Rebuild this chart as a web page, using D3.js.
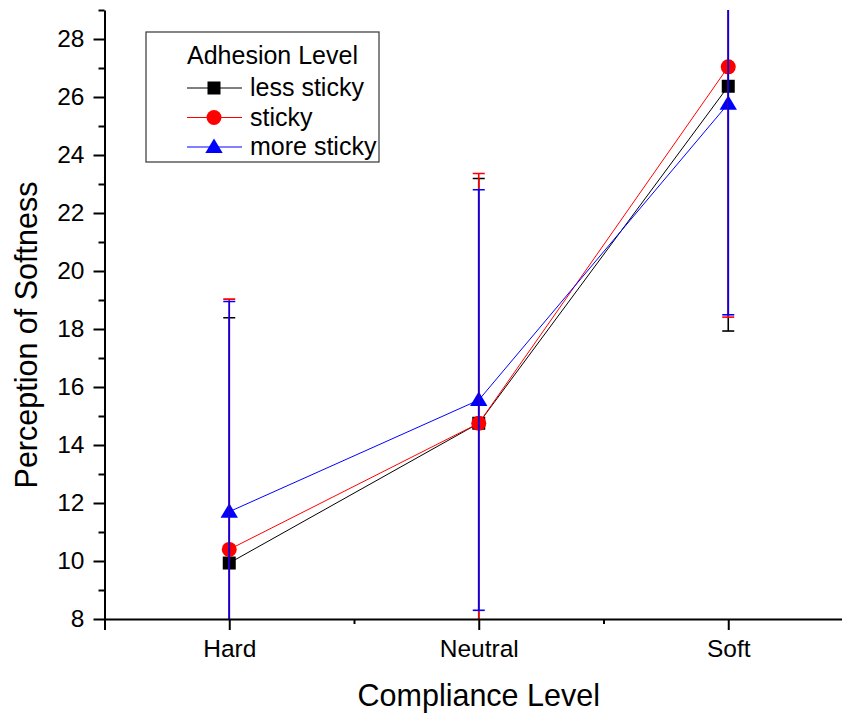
<!DOCTYPE html>
<html>
<head>
<meta charset="utf-8">
<script src="https://cdn.jsdelivr.net/npm/d3@7"></script>
<style>
  body { margin: 0; background: #fff; }
  svg { display: block; font-family: "Liberation Sans", Arial, sans-serif; }
</style>
</head>
<body>
<div id="svganchor"></div>
<script>
// categories and series
var categories = ["Hard", "Neutral", "Soft"];
var seriesNames = ["less sticky", "sticky", "more sticky"];
var seriesColors = ["#000000", "#ff0000", "#0000ff"];
var seriesShapes = ["square", "circle", "triangle"];

// mean values per series (Hard, Neutral, Soft)
var lessSticky = [9.93, 14.75, 26.37];
var sticky = [10.4, 14.75, 27.04];
var moreSticky = [11.7, 15.55, 25.77];
// error (+/-) per series
var lessStickyErr = [8.46, 8.44, 8.44];
var stickyErr = [8.63, 8.61, 8.63];
var moreStickyErr = [7.25, 7.25, 7.28];

var yTicks = [8, 10, 12, 14, 16, 18, 20, 22, 24, 26, 28];
var yMinorTicks = [9, 11, 13, 15, 17, 19, 21, 23, 25, 27, 29];

var means = [lessSticky, sticky, moreSticky];
var errs = [lessStickyErr, stickyErr, moreStickyErr];

var width = 842, height = 713;
var margin = { top: 10, left: 104.5, right: -11, bottom: 94 };

var svg = d3.select("#svganchor").append("svg")
  .attr("width", width).attr("height", height);

var x = d3.scaleLinear().domain([0.5, 3.5]).range([margin.left, width - margin.right]);
var y = d3.scaleLinear().domain([8, 29]).range([height - margin.bottom, margin.top]);

svg.append("defs").append("clipPath").attr("id", "plotclip")
  .append("rect")
  .attr("x", margin.left).attr("y", margin.top)
  .attr("width", width - margin.right - margin.left)
  .attr("height", height - margin.bottom - margin.top);

var dataReady = seriesNames.map(function (name, i) {
  return {
    name: name, color: seriesColors[i], shape: seriesShapes[i],
    values: categories.map(function (c, j) {
      return { idx: j + 1, value: means[i][j], err: errs[i][j] };
    })
  };
});

function marker(g, shape, color) {
  if (shape == "square") {
    g.append("rect").attr("x", -6.5).attr("y", -6.5).attr("width", 13).attr("height", 13).attr("fill", color);
  } else if (shape == "circle") {
    g.append("circle").attr("r", 7.5).attr("fill", color);
  } else {
    g.append("path").attr("d", "M0,-8.5L8.7,6L-8.7,6Z").attr("fill", color);
  }
}

var plot = svg.append("g").attr("clip-path", "url(#plotclip)");

// lines
var line = d3.line()
  .x(function (d) { return x(d.idx); })
  .y(function (d) { return y(d.value); });

dataReady.forEach(function (s) {
  plot.append("path")
    .attr("d", line(s.values))
    .attr("stroke", s.color)
    .attr("stroke-width", 1)
    .attr("fill", "none");
  s.values.forEach(function (d) {
    var g = plot.append("g").attr("transform", "translate(" + x(d.idx) + "," + y(d.value) + ")");
    marker(g, s.shape, s.color);
  });
});

// error bars drawn on top
dataReady.forEach(function (s) {
  s.values.forEach(function (d) {
    var cx = x(d.idx);
    var g = plot.append("g").attr("stroke", s.color).attr("stroke-width", 1.6);
    g.append("line").attr("x1", cx).attr("x2", cx)
      .attr("y1", y(d.value - d.err)).attr("y2", y(d.value + d.err));
    [d.value - d.err, d.value + d.err].forEach(function (v) {
      g.append("line").attr("x1", cx - 6).attr("x2", cx + 6)
        .attr("y1", y(v)).attr("y2", y(v));
    });
  });
});

// axes
var xAxis = svg.append("g")
  .attr("transform", "translate(0," + y(8) + ")")
  .call(d3.axisBottom(x).tickValues([1, 2, 3]).tickSize(11).tickPadding(10)
    .tickFormat(function (d) { return categories[d - 1]; }));
svg.append("g")
  .attr("transform", "translate(0," + y(8) + ")")
  .call(d3.axisBottom(x).tickValues([0.5, 1.5, 2.5, 3.5]).tickSize(5).tickFormat(""))
  .select(".domain").remove();

var yAxis = svg.append("g")
  .attr("transform", "translate(" + margin.left + ",0)")
  .call(d3.axisLeft(y).tickValues(yTicks).tickSize(11).tickPadding(9).tickSizeOuter(0));
svg.append("g")
  .attr("transform", "translate(" + margin.left + ",0)")
  .call(d3.axisLeft(y).tickValues(yMinorTicks).tickSize(6).tickFormat(""))
  .select(".domain").remove();

svg.selectAll(".domain").attr("stroke-width", 2);
svg.selectAll(".tick line").attr("stroke-width", 2);
svg.selectAll(".tick text").attr("font-size", 24.5).attr("fill", "#000")
  .attr("font-family", "Liberation Sans, Arial, sans-serif");
xAxis.selectAll(".tick text").attr("dy", "0.71em").attr("y", 21);

// axis titles
svg.append("text")
  .attr("x", x(2)).attr("y", 706)
  .attr("text-anchor", "middle")
  .attr("font-size", 30.5)
  .text("Compliance Level");
svg.append("text")
  .attr("transform", "translate(37," + 335 + ") rotate(-90)")
  .attr("text-anchor", "middle")
  .attr("font-size", 30.5)
  .text("Perception of Softness");

// legend
var legend = svg.append("g");
legend.append("rect")
  .attr("x", 146).attr("y", 32).attr("width", 233).attr("height", 130)
  .attr("fill", "#fff").attr("stroke", "#444").attr("stroke-width", 1.3);
legend.append("text")
  .attr("x", 187).attr("y", 64)
  .attr("font-size", 25)
  .text("Adhesion Level");
dataReady.forEach(function (s, i) {
  var ly = 88 + i * 29.5;
  legend.append("line")
    .attr("x1", 187).attr("x2", 242).attr("y1", ly).attr("y2", ly)
    .attr("stroke", s.color).attr("stroke-width", 1);
  var g = legend.append("g").attr("transform", "translate(214," + ly + ")");
  marker(g, s.shape, s.color);
  legend.append("text")
    .attr("x", 250).attr("y", ly + 8)
    .attr("font-size", 25)
    .text(s.name);
});
</script>
</body>
</html>
